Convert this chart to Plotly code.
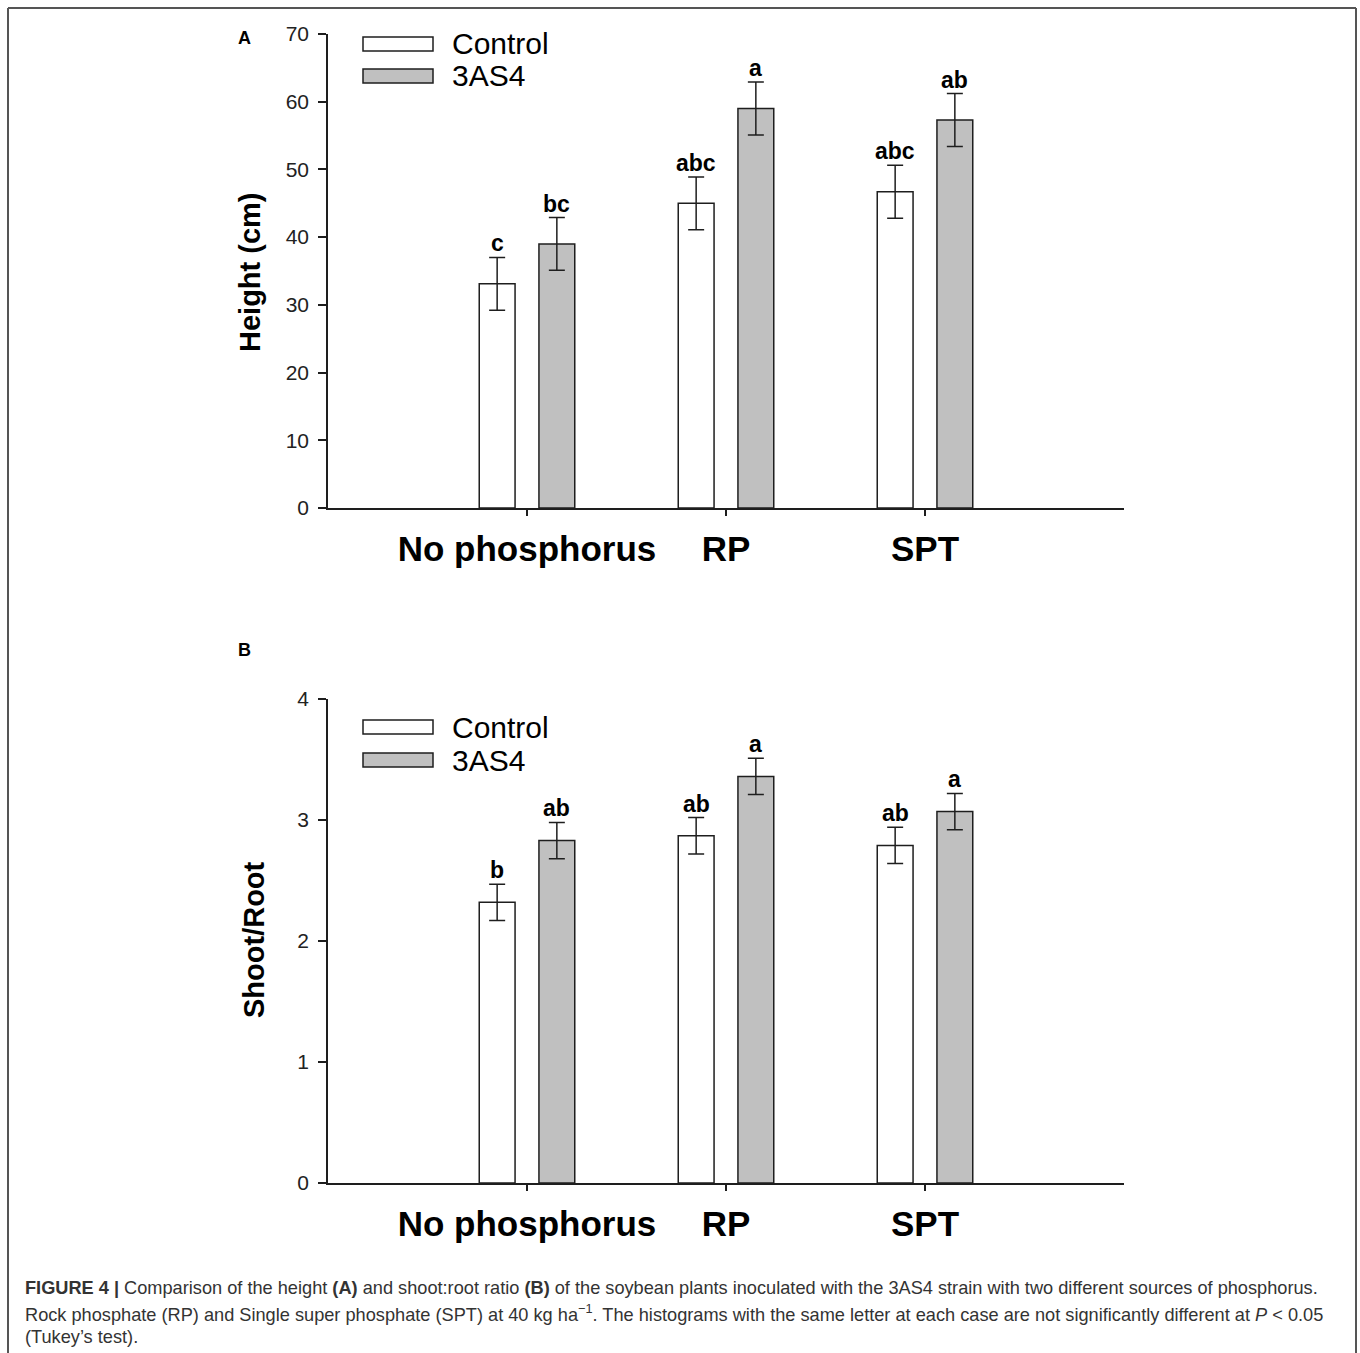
import plotly.graph_objects as go

# ---------------- data ----------------
categories = ["No phosphorus", "RP", "SPT"]
series_names = ["Control", "3AS4"]

height_control = [33.1, 45.0, 46.7]
height_3as4 = [39.0, 59.0, 57.3]
height_control_err = [3.9, 3.9, 3.9]
height_3as4_err = [3.9, 3.9, 3.9]
height_control_letters = ["c", "abc", "abc"]
height_3as4_letters = ["bc", "a", "ab"]

ratio_control = [2.32, 2.87, 2.79]
ratio_3as4 = [2.83, 3.36, 3.07]
ratio_control_err = [0.15, 0.15, 0.15]
ratio_3as4_err = [0.15, 0.15, 0.15]
ratio_control_letters = ["b", "ab", "ab"]
ratio_3as4_letters = ["ab", "a", "a"]

height_ticks = [0, 10, 20, 30, 40, 50, 60, 70]
ratio_ticks = [0, 1, 2, 3, 4]

# ---------------- layout helpers ----------------
W, H = 1360, 1353
def px(x):
    return x / W
def py(y):
    return 1 - y / H

FONT = "Liberation Sans, Arial, sans-serif"
BAR_COLORS = ["#ffffff", "#c0c0c0"]
LINE = "#1e1e1e"
BARGAP = 0.4
BARGROUPGAP = 0.4
OFFSET = (1 - BARGAP) / 4

fig = go.Figure()

panels = [
    dict(xa="x", ya="y", vals=[height_control, height_3as4],
         errs=[height_control_err, height_3as4_err],
         letters=[height_control_letters, height_3as4_letters]),
    dict(xa="x2", ya="y2", vals=[ratio_control, ratio_3as4],
         errs=[ratio_control_err, ratio_3as4_err],
         letters=[ratio_control_letters, ratio_3as4_letters]),
]

annotations = []
for p in panels:
    for s in range(2):
        fig.add_trace(go.Bar(
            x=categories, y=p["vals"][s], name=series_names[s],
            xaxis=p["xa"], yaxis=p["ya"], showlegend=False,
            marker=dict(color=BAR_COLORS[s], line=dict(color=LINE, width=1.5)),
            error_y=dict(type="data", array=p["errs"][s], visible=True,
                         color=LINE, thickness=1.5, width=8),
        ))
        off = -OFFSET if s == 0 else OFFSET
        for i, lab in enumerate(p["letters"][s]):
            annotations.append(dict(
                x=i + off, y=p["vals"][s][i] + p["errs"][s][i],
                xref=p["xa"], yref=p["ya"], text="<b>%s</b>" % lab,
                showarrow=False, xanchor="center", yanchor="bottom",
                font=dict(family=FONT, size=23, color="#000"), yshift=-1,
            ))

xdom = [px(328), px(1124)]
ydomA = [py(508), py(34)]
ydomB = [py(1183), py(699)]

xaxis_common = dict(
    domain=xdom, range=[-1, 3], type="category", automargin=False,
    showline=True, linecolor=LINE, linewidth=1.5,
    ticks="outside", ticklen=6, tickwidth=1.5, tickcolor=LINE,
    showgrid=False, zeroline=False,
    tickvals=categories, ticktext=["<b>%s</b>" % c for c in categories],
    tickfont=dict(family=FONT, size=35, color="#000"),
    ticklabelstandoff=3,
)
yaxis_common = dict(
    automargin=False,
    showline=True, linecolor=LINE, linewidth=1.5,
    ticks="outside", ticklen=8, tickwidth=1.5, tickcolor=LINE,
    showgrid=False, zeroline=False,
    tickfont=dict(family=FONT, size=21, color="#222"),
    ticklabelstandoff=5,
)

fig.update_layout(
    template="none",
    width=W, height=H,
    margin=dict(l=0, r=0, t=0, b=0, pad=0),
    paper_bgcolor="white", plot_bgcolor="white",
    barmode="group", bargap=BARGAP, bargroupgap=BARGROUPGAP,
    showlegend=False,
    xaxis=dict(anchor="y", **xaxis_common),
    xaxis2=dict(anchor="y2", **xaxis_common),
    yaxis=dict(anchor="x", domain=ydomA, range=[0, 70], tickvals=height_ticks, **yaxis_common),
    yaxis2=dict(anchor="x2", domain=ydomB, range=[0, 4], tickvals=ratio_ticks, **yaxis_common),
)

shapes = []
# outer frame (top, left, right)
frame = dict(type="line", xref="paper", yref="paper", line=dict(color="#555", width=2))
shapes.append(dict(frame, x0=px(8), x1=px(1356), y0=py(8), y1=py(8)))
shapes.append(dict(frame, x0=px(8), x1=px(8), y0=py(8), y1=-0.01))
shapes.append(dict(frame, x0=px(1356), x1=px(1356), y0=py(8), y1=-0.01))

# legends (swatches + labels)
for (top_ctrl, top_3as4) in [(37, 69), (720, 753)]:
    for s, top in enumerate([top_ctrl, top_3as4]):
        shapes.append(dict(type="rect", xref="paper", yref="paper",
                           x0=px(363), x1=px(433), y0=py(top + 14), y1=py(top),
                           fillcolor=BAR_COLORS[s], line=dict(color=LINE, width=1.5)))
        annotations.append(dict(x=px(450), y=py(top + 7), xref="paper", yref="paper",
                                text=series_names[s], showarrow=False,
                                xanchor="left", yanchor="middle",
                                font=dict(family=FONT, size=30, color="#000")))

# panel letters
for lab, y in [("A", 38), ("B", 650)]:
    annotations.append(dict(x=px(244), y=py(y), xref="paper", yref="paper",
                            text="<b>%s</b>" % lab, showarrow=False,
                            xanchor="center", yanchor="middle",
                            font=dict(family=FONT, size=18, color="#000")))

# y-axis titles
for lab, x, y in [("Height (cm)", 250, 272), ("Shoot/Root", 254, 940)]:
    annotations.append(dict(x=px(x), y=py(y), xref="paper", yref="paper",
                            text="<b>%s</b>" % lab, showarrow=False, textangle=-90,
                            xanchor="center", yanchor="middle",
                            font=dict(family=FONT, size=29, color="#000")))

# caption
caption_lines = [
    "<b>FIGURE 4 |</b> Comparison of the height <b>(A)</b> and shoot:root ratio <b>(B)</b> of the soybean plants inoculated with the 3AS4 strain with two different sources of phosphorus.",
    "Rock phosphate (RP) and Single super phosphate (SPT) at 40 kg ha<sup>\u22121</sup>. The histograms with the same letter at each case are not significantly different at <i>P</i> &lt; 0.05",
    "(Tukey\u2019s test).",
]
for line, y in zip(caption_lines, [1288, 1313, 1337]):
    annotations.append(dict(x=px(23), y=py(y), xref="paper", yref="paper",
                            text=line, showarrow=False, xanchor="left", yanchor="middle",
                            font=dict(family=FONT, size=18.2, color="#333")))

fig.update_layout(shapes=shapes, annotations=annotations)
fig.write_html("out.html", config={"displayModeBar": False},
               post_script="document.body.style.margin='0';document.body.style.overflow='hidden';")
